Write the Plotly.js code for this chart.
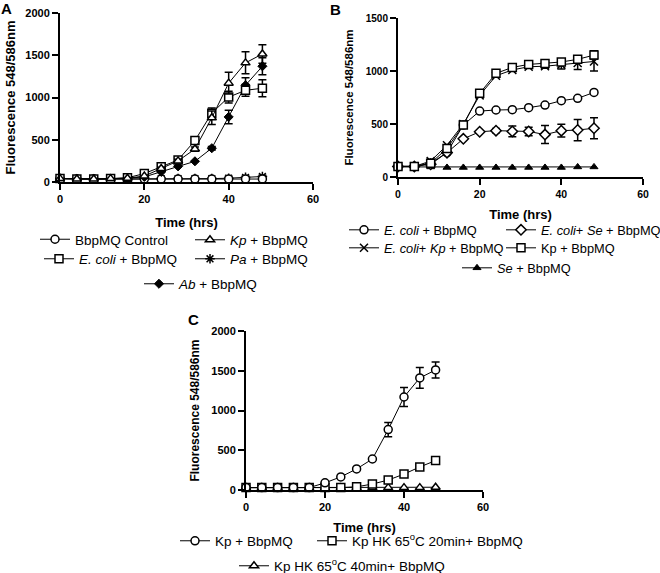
<!DOCTYPE html>
<html>
<head>
<meta charset="utf-8">
<script src="https://cdn.plot.ly/plotly-3.0.1.min.js"></script>
<style>html,body{margin:0;padding:0;background:#fff;}#chart{width:660px;height:573px;}</style>
</head>
<body>
<div id="chart"></div>
<script>
// ---- data ----
const timeHrs = [0,4,8,12,16,20,24,28,32,36,40,44,48];

// Panel A
const aControl = [40,35,35,35,35,35,35,35,35,35,35,35,35];
const aEcoli   = [40,35,35,40,50,100,180,260,490,815,1005,1085,1110];
const aEcoliErr= [0,0,0,0,0,0,15,20,30,60,70,70,100];
const aKp      = [40,35,35,40,45,70,160,250,390,760,1170,1410,1515];
const aKpErr   = [0,0,0,0,0,0,15,20,25,80,130,130,110];
const aPa      = [40,35,35,35,35,35,40,40,40,40,45,55,65];
const aPaErr   = [0,0,0,0,0,0,0,0,0,0,20,15,15];
const aAb      = [40,35,35,40,45,60,120,185,245,400,770,1145,1370];
const aAbErr   = [0,0,0,0,0,0,0,0,0,20,80,90,100];

// Panel B
const bEcoli    = [100,100,130,230,490,622,632,635,654,679,720,742,798];
const bEcoliSe  = [100,100,120,230,360,427,437,430,430,400,437,443,460];
const bEcoliSeErr=[0,0,0,0,0,0,20,50,40,85,60,100,100];
const bEcoliKp  = [100,100,150,300,500,770,955,1010,1040,1045,1060,1075,1090];
const bEcoliKpErr=[0,0,0,0,0,0,0,0,0,20,40,60,90];
const bKp       = [100,100,130,270,490,789,978,1034,1062,1070,1085,1110,1150];
const bKpErr    = [0,0,0,0,0,0,0,0,0,15,20,30,40];
const bSe       = [95,95,95,90,90,90,90,90,90,90,90,95,95];

// Panel C
const cKp    = [30,30,30,30,30,90,165,265,390,760,1170,1410,1510];
const cKpErr = [0,0,0,0,0,0,0,0,0,90,120,130,100];
const cHk20  = [30,30,30,30,30,30,30,40,75,125,200,290,370];
const cHk40  = [30,30,30,30,30,30,30,30,30,30,30,30,35];

// ---- helpers ----
function tr(y, err, sym, style, size, name, xa, ya, leg) {
  const marker = {symbol: sym, size: size};
  if (style === 'line') {
    marker.symbol = sym + '-open'; marker.color = '#000'; marker.line = {color: '#000', width: 1.5};
  } else if (style === 'filled') {
    marker.color = '#000'; marker.line = {color: '#000', width: 1};
  } else {
    marker.color = '#fff'; marker.line = {color: '#000', width: 1.5};
  }
  const t = {
    x: timeHrs, y: y, name: name, type: 'scatter', mode: 'lines+markers',
    xaxis: xa, yaxis: ya, legend: leg, cliponaxis: false,
    line: {color: '#000', width: 1}, marker: marker
  };
  if (err) t.error_y = {type: 'data', array: err, visible: true, color: '#000', thickness: 1.5, width: 4};
  return t;
}

const data = [
  tr(aPa, aPaErr, 'asterisk', 'line', 8, '<i>Pa</i> + BbpMQ', 'x', 'y', 'legend4'),
  tr(aControl, null, 'circle', 'open', 8, 'BbpMQ Control', 'x', 'y', 'legend'),
  tr(aAb, aAbErr, 'diamond', 'filled', 7, '<i>Ab</i> + BbpMQ', 'x', 'y', 'legend5'),
  tr(aEcoli, aEcoliErr, 'square', 'open', 8, '<i>E. coli</i> + BbpMQ', 'x', 'y', 'legend3'),
  tr(aKp, aKpErr, 'triangle-up', 'open', 8, '<i>Kp</i> + BbpMQ', 'x', 'y', 'legend2'),

  tr(bSe, null, 'triangle-up', 'filled', 7, '<i>Se</i> + BbpMQ', 'x2', 'y2', 'legend10'),
  tr(bEcoli, null, 'circle', 'open', 8, '<i>E. coli</i> + BbpMQ', 'x2', 'y2', 'legend6'),
  tr(bEcoliSe, bEcoliSeErr, 'diamond', 'open', 8, '<i>E. coli</i>+ <i>Se</i> + BbpMQ', 'x2', 'y2', 'legend7'),
  tr(bEcoliKp, bEcoliKpErr, 'x-thin', 'line', 8, '<i>E. coli</i>+ <i>Kp</i> + BbpMQ', 'x2', 'y2', 'legend8'),
  tr(bKp, bKpErr, 'square', 'open', 8, 'Kp + BbpMQ', 'x2', 'y2', 'legend9'),

  tr(cHk40, null, 'triangle-up', 'open', 8, 'Kp HK 65<sup>o</sup>C 40min+ BbpMQ', 'x3', 'y3', 'legend13'),
  tr(cHk20, null, 'square', 'open', 8, 'Kp HK 65<sup>o</sup>C 20min+ BbpMQ', 'x3', 'y3', 'legend12'),
  tr(cKp, cKpErr, 'circle', 'open', 8, 'Kp + BbpMQ', 'x3', 'y3', 'legend11')
];

const W = 660, H = 573;
const px = v => v / W;
const py = v => 1 - v / H;

const FAM = 'Liberation Sans, Arial, sans-serif';
function xax(dom, anchor, tickSize, titleSize, standoff) {
  return {domain: dom, anchor: anchor, range: [0, 60], tickvals: [0,20,40,60],
    showline: true, linewidth: 2, linecolor: '#000', ticks: 'outside', ticklen: 6, tickwidth: 2,
    tickcolor: '#000', showgrid: false, zeroline: false, fixedrange: true, automargin: false,
    tickfont: {family: FAM, size: tickSize, color: '#000', weight: 'bold'},
    title: {text: '<b>Time (hrs)</b>', font: {family: FAM, size: titleSize, color: '#000'}, standoff: standoff}};
}
function yax(dom, anchor, max, step, tickSize, titleSize, standoff) {
  const tv = []; for (let v = 0; v <= max; v += step) tv.push(v);
  return {domain: dom, anchor: anchor, range: [0, max], tickvals: tv,
    showline: true, linewidth: 2, linecolor: '#000', ticks: 'outside', ticklen: 6, tickwidth: 2,
    tickcolor: '#000', showgrid: false, zeroline: false, fixedrange: true, automargin: false,
    tickfont: {family: FAM, size: tickSize, color: '#000', weight: 'bold'},
    title: {text: '<b>Fluorescence 548/586nm</b>', font: {family: FAM, size: titleSize, color: '#000'}, standoff: standoff}};
}

// target pixel positions: [text left x, row centre y, font size]
const legTargets = {
  legend: [75, 240, 13.5], legend2: [228, 240, 13.5],
  legend3: [77, 259, 13.5], legend4: [228, 259, 13.5],
  legend5: [177, 284, 13.5],
  legend6: [382, 230, 12.8], legend7: [539, 230, 12.8],
  legend8: [382, 248, 12.8], legend9: [539, 248, 12.8],
  legend10: [495, 268, 12.8],
  legend11: [213, 541, 13.5], legend12: [350, 541, 13.5],
  legend13: [272, 566, 13.5]
};

const panelLabel = (t, x, y) => ({text: '<b>' + t + '</b>', x: px(x), y: py(y), xref: 'paper', yref: 'paper',
  xanchor: 'left', yanchor: 'top', showarrow: false, font: {family: FAM, size: 15, color: '#000'}});

const layout = {
  width: W, height: H, margin: {l: 0, r: 0, t: 0, b: 0, autoexpand: false},
  paper_bgcolor: '#fff', plot_bgcolor: '#fff', showlegend: true,
  xaxis: xax([px(60), px(313)], 'y', 11, 13, 14),
  yaxis: yax([py(182), py(13)], 'x', 2000, 500, 11, 13, 7),
  xaxis2: xax([px(398), px(643)], 'y2', 10.5, 13, 11),
  yaxis2: yax([py(177), py(18)], 'x2', 1500, 500, 10, 11.5, 10),
  xaxis3: xax([px(246), px(483)], 'y3', 11, 13, 11),
  yaxis3: yax([py(490), py(331)], 'x3', 2000, 500, 11, 12, 9),
  annotations: [panelLabel('A', -1, -2), panelLabel('B', 328, -1), panelLabel('C', 186, 309)]
};
for (const id in legTargets) {
  layout[id] = {orientation: 'h', x: px(legTargets[id][0] - 38), y: py(legTargets[id][1]),
    xanchor: 'left', yanchor: 'middle', bgcolor: 'rgba(0,0,0,0)', borderwidth: 0,
    font: {family: FAM, size: legTargets[id][2], color: '#000'}};
}

Plotly.newPlot('chart', data, layout, {staticPlot: true, displayModeBar: false}).then(function (gd) {
  // fine-tune each legend so its text sits at the target pixel position
  const root = gd.getBoundingClientRect();
  const upd = {};
  for (const id in legTargets) {
    const g = gd.querySelector('.infolayer g.' + id);
    if (!g) continue;
    const t = g.querySelector('text.legendtext');
    if (!t) continue;
    const r = t.getBoundingClientRect();
    const dx = legTargets[id][0] - (r.left - root.left);
    const dy = legTargets[id][1] - ((r.top + r.bottom) / 2 - root.top);
    upd[id + '.x'] = gd.layout[id].x + dx / W;
    upd[id + '.y'] = gd.layout[id].y - dy / H;
  }
  if (Object.keys(upd).length) return Plotly.relayout(gd, upd);
});
</script>
</body>
</html>
